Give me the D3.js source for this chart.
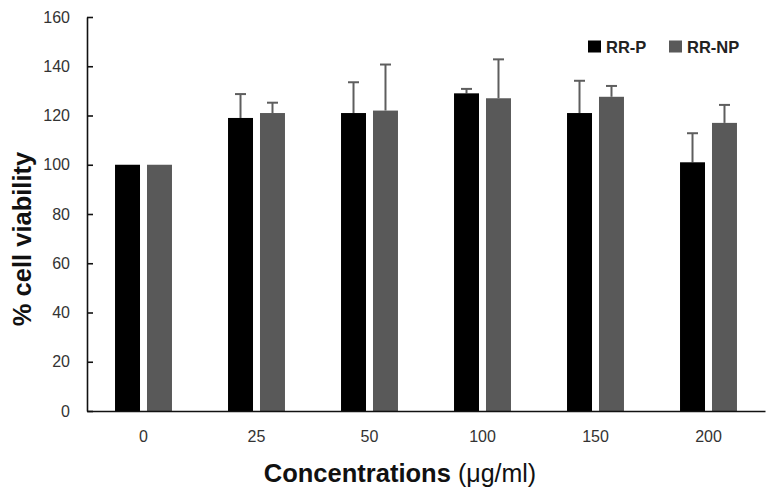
<!DOCTYPE html>
<html>
<head>
<meta charset="utf-8">
<script src="https://cdn.jsdelivr.net/npm/d3@7"></script>
<style>
  html, body { margin: 0; padding: 0; background: #fff; }
  svg { display: block; }
</style>
</head>
<body>
<svg id="chart" width="774" height="496"></svg>
<script>
const categories = ["0", "25", "50", "100", "150", "200"];
const seriesNames = ["RR-P", "RR-NP"];
const rrP = [100, 119, 121, 129, 121, 101];
const rrPErr = [0, 9.7, 12.5, 1.8, 13.1, 11.8];
const rrNP = [100, 121, 122, 127, 127.6, 117];
const rrNPErr = [0, 4.2, 18.7, 15.8, 4.4, 7.3];
const yTicks = [0, 20, 40, 60, 80, 100, 120, 140, 160];
const colors = ["#000000", "#595959"];

const svg = d3.select("#chart");
const margin = { left: 87, right: 9, top: 17, bottom: 85 };
const W = 774, H = 496;

const x0 = d3.scaleBand().domain(categories).range([margin.left, W - margin.right]).padding(0);
const bw = x0.bandwidth();
const x1 = d3.scaleBand().domain(seriesNames).range([bw * 0.248, bw * 0.752]).paddingInner(7 / 32).paddingOuter(0);
const y = d3.scaleLinear().domain([0, 160]).range([H - margin.bottom, margin.top]);

const data = categories.map((c, i) => ({
  cat: c,
  vals: [
    { s: seriesNames[0], v: rrP[i], e: rrPErr[i], col: colors[0] },
    { s: seriesNames[1], v: rrNP[i], e: rrNPErr[i], col: colors[1] }
  ]
}));

// Error bars (drawn behind bars)
const errG = svg.append("g");
data.forEach(d => {
  d.vals.forEach(s => {
    if (s.e <= 0) return;
    const cx = x0(d.cat) + x1(s.s) + x1.bandwidth() / 2;
    errG.append("line")
      .attr("x1", cx).attr("x2", cx)
      .attr("y1", y(s.v)).attr("y2", y(s.v + s.e))
      .attr("stroke", "#5e5e5e").attr("stroke-width", 2);
    errG.append("line")
      .attr("x1", cx - 5.5).attr("x2", cx + 5.5)
      .attr("y1", y(s.v + s.e)).attr("y2", y(s.v + s.e))
      .attr("stroke", "#5e5e5e").attr("stroke-width", 2);
  });
});

// Bars
const groups = svg.append("g").selectAll("g").data(data).join("g")
  .attr("transform", d => `translate(${x0(d.cat)},0)`);
groups.selectAll("rect").data(d => d.vals).join("rect")
  .attr("x", d => x1(d.s))
  .attr("width", x1.bandwidth())
  .attr("y", d => y(d.v))
  .attr("height", d => y(0) - y(d.v))
  .attr("fill", d => d.col);

// Y axis
const yAxis = d3.axisLeft(y).tickValues(yTicks).tickSizeInner(-6).tickSizeOuter(0).tickPadding(17);
const yg = svg.append("g").attr("transform", `translate(${margin.left},0)`).call(yAxis);
yg.select(".domain").attr("stroke", "#111").attr("stroke-width", 1.6);
yg.selectAll(".tick line").attr("stroke", "#111").attr("stroke-width", 1.6);
yg.selectAll(".tick text").attr("font-family", "Liberation Sans, Arial, sans-serif")
  .attr("font-size", 16).attr("fill", "#333");

// X axis
const xAxis = d3.axisBottom(x0).tickSize(0).tickPadding(20);
const xg = svg.append("g").attr("transform", `translate(0,${y(0)})`).call(xAxis);
xg.select(".domain").attr("stroke", "#111").attr("stroke-width", 1.6);
xg.selectAll(".tick text").attr("font-family", "Liberation Sans, Arial, sans-serif")
  .attr("font-size", 16).attr("fill", "#333");

// Axis titles
svg.append("text")
  .attr("transform", `translate(31,${(y(0) + y(160)) / 2 + 25}) rotate(-90)`)
  .attr("text-anchor", "middle")
  .attr("font-family", "Liberation Sans, Arial, sans-serif")
  .attr("font-size", 25.5).attr("font-weight", "bold").attr("fill", "#111")
  .text("% cell viability");

const xt = svg.append("text")
  .attr("x", 400)
  .attr("y", 482)
  .attr("text-anchor", "middle")
  .attr("font-family", "Liberation Sans, Arial, sans-serif")
  .attr("fill", "#111");
xt.append("tspan").attr("font-size", 25.5).attr("font-weight", "bold").text("Concentrations ");
xt.append("tspan").attr("font-size", 25).text("(μg/ml)");

// Legend
const legendX = [588, 669];
seriesNames.forEach((s, i) => {
  svg.append("rect").attr("x", legendX[i]).attr("y", 40.5).attr("width", 13).attr("height", 12)
    .attr("fill", colors[i]);
  svg.append("text").attr("x", legendX[i] + 18).attr("y", 52.5)
    .attr("font-family", "Liberation Sans, Arial, sans-serif")
    .attr("font-size", 16.5).attr("font-weight", "bold").attr("fill", "#222")
    .text(s);
});
</script>
</body>
</html>
